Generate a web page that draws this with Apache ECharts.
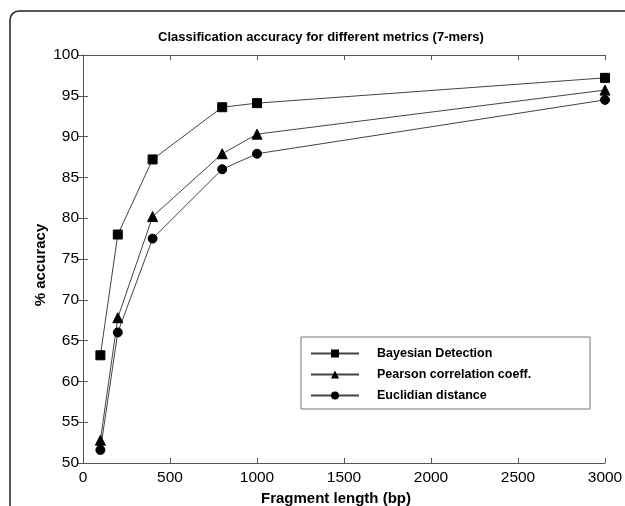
<!DOCTYPE html>
<html><head><meta charset="utf-8">
<script src="https://cdn.jsdelivr.net/npm/echarts@6/dist/echarts.min.js"></script>
<style>html,body{margin:0;padding:0;background:#fff}#c{width:625px;height:506px}</style>
</head><body><div id="c"></div>
<script>
var fragmentLengths = [100, 200, 400, 800, 1000, 3000];
var bayesian = [63.2, 78.0, 87.2, 93.6, 94.1, 97.2];
var pearson = [52.8, 67.8, 80.2, 87.9, 90.3, 95.7];
var euclidian = [51.6, 66.0, 77.5, 86.0, 87.9, 94.5];
var seriesNames = ['Bayesian Detection', 'Pearson correlation coeff.', 'Euclidian distance'];
var symbols = ['rect', 'triangle', 'circle'];
var symbolSizes = [9, 10, 9];

function pairs(vals){ return fragmentLengths.map(function(x,i){ return [x, vals[i]]; }); }
var allVals = [bayesian, pearson, euclidian];
var font = '"Liberation Sans", Arial, sans-serif';
var axisCol = '#555';

var chart = echarts.init(document.getElementById('c'), null, {renderer:'canvas'});
var common = {
  axisLine:{show:true, lineStyle:{color:axisCol, width:1}},
  axisTick:{show:true, inside:true, length:5, lineStyle:{color:axisCol}},
  splitLine:{show:false}
};
chart.setOption({
  animation:false,
  backgroundColor:'#fff',
  title:{text:'Classification accuracy for different metrics (7-mers)', left:316, textAlign:'center', top:26,
    textStyle:{fontFamily:font, fontWeight:'bold', fontSize:13, color:'#000'}},
  grid:{left:83, right:20, top:55, bottom:43, outerBoundsMode:'none', containLabel:false},
  graphic:[{type:'rect', shape:{x:10, y:11, width:700, height:600, r:9}, style:{fill:null, stroke:'#222', lineWidth:1.5}, silent:true},
           {type:'rect', shape:{x:301, y:337, width:289, height:72}, style:{fill:'#fff', stroke:'#777', lineWidth:1}, z:5, silent:true}],
  legend:{orient:'vertical', left:305, top:342, itemWidth:48, itemHeight:10, itemGap:8, z:10,
    data:seriesNames,
    textStyle:{fontFamily:font, fontWeight:'bold', fontSize:12.5, color:'#000', padding:[0,0,0,13]}},
  xAxis:[Object.assign({type:'value', min:0, max:3000, interval:500, position:'bottom',
      name:'Fragment length (bp)', nameLocation:'middle', nameGap:28,
      nameTextStyle:{fontFamily:font, fontWeight:'bold', fontSize:15, color:'#000', padding:[0,16,0,0]},
      axisLabel:{fontFamily:font, fontSize:15.5, color:'#000', margin:7, formatter:function(v){return String(v);}}}, common),
    Object.assign({type:'value', min:0, max:3000, interval:500, position:'top', axisLabel:{show:false}}, common)],
  yAxis:[Object.assign({type:'value', min:50, max:100, interval:5, position:'left',
      name:'% accuracy', nameLocation:'middle', nameGap:35, nameRotate:90, nameMoveOverlap:false,
      nameTextStyle:{fontFamily:font, fontWeight:'bold', fontSize:15, color:'#000', padding:[0,12,0,0]},
      axisLabel:{fontFamily:font, fontSize:15.5, color:'#000', margin:4}}, common),
    Object.assign({type:'value', min:50, max:100, interval:5, position:'right', axisLabel:{show:false}}, common)],
  series: seriesNames.map(function(n,i){
    return {name:n, type:'line', xAxisIndex:0, yAxisIndex:0, data:pairs(allVals[i]),
      symbol:symbols[i], symbolSize:symbolSizes[i], showAllSymbol:true,
      lineStyle:{color:'#444', width:1}, itemStyle:{color:'#000', borderColor:'#000'}, z:3};
  })
});
</script></body></html>
